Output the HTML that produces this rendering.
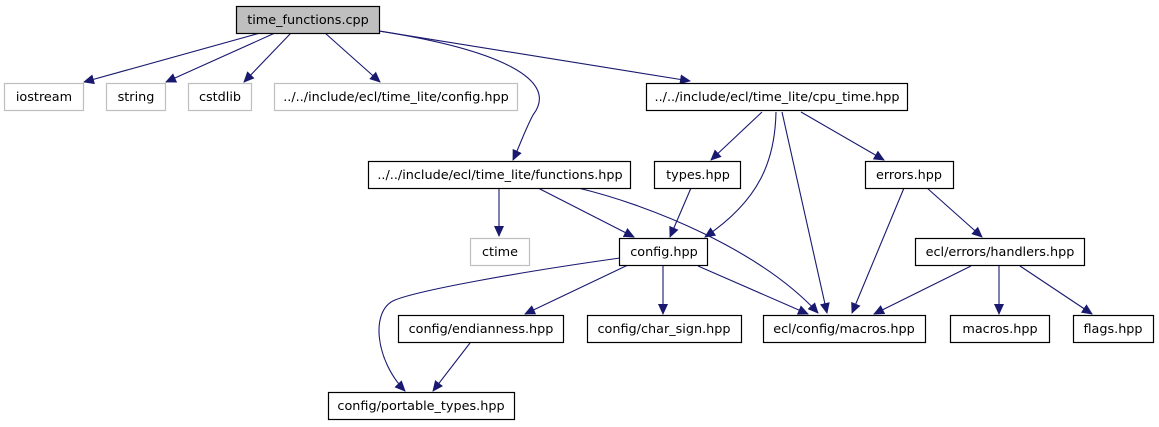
<!DOCTYPE html>
<html><head><meta charset="utf-8"><style>
html,body{margin:0;padding:0;background:#fff;}
svg{display:block;}
text{font-family:"DejaVu Sans","Liberation Sans",sans-serif;font-size:12.8px;fill:#000;}
.n{fill:#fff;stroke:#000;stroke-width:1.2;}
.g{fill:#fff;stroke:#bfbfbf;stroke-width:1.2;}
.e{fill:none;stroke:#191970;stroke-width:1.1;}
</style></head><body>
<svg width="1159" height="427" viewBox="0 0 1159 427" xmlns="http://www.w3.org/2000/svg">
<defs><marker id="a" markerWidth="11" markerHeight="10" refX="10" refY="5" orient="auto" markerUnits="userSpaceOnUse"><path d="M0,0 L11,5 L0,10 z" fill="#191970"/></marker></defs>
<g class="e">
<path d="M260,33 L84,82" marker-end="url(#a)"/>
<path d="M275,33 L166,82" marker-end="url(#a)"/>
<path d="M291,33 L244,82" marker-end="url(#a)"/>
<path d="M325,33 L380,82" marker-end="url(#a)"/>
<path d="M379,31 C500,50 560,80 533,115 C525,130 520,145 513,160" marker-end="url(#a)"/>
<path d="M379,31 L690,81" marker-end="url(#a)"/>
<path d="M762,112 L711,160" marker-end="url(#a)"/>
<path d="M776,112 C775,160 760,200 705,237" marker-end="url(#a)"/>
<path d="M782,112 L827,313" marker-end="url(#a)"/>
<path d="M801,112 L884,160" marker-end="url(#a)"/>
<path d="M499,188 L499,236" marker-end="url(#a)"/>
<path d="M538,188 L634,237" marker-end="url(#a)"/>
<path d="M578,188 C650,205 760,250 818,313" marker-end="url(#a)"/>
<path d="M691,188 L670,237" marker-end="url(#a)"/>
<path d="M904,188 L852,313" marker-end="url(#a)"/>
<path d="M927,188 L982,237" marker-end="url(#a)"/>
<path d="M620,258 C520,272 420,290 395,300 C370,310 375,360 405,391" marker-end="url(#a)"/>
<path d="M628,265 L525,314" marker-end="url(#a)"/>
<path d="M663,266 L663,314" marker-end="url(#a)"/>
<path d="M698,266 L808,314" marker-end="url(#a)"/>
<path d="M971,266 L874,314" marker-end="url(#a)"/>
<path d="M999,266 L999,314" marker-end="url(#a)"/>
<path d="M1020,266 L1092,314" marker-end="url(#a)"/>
<path d="M470,343 L433,391" marker-end="url(#a)"/>
</g>
<rect x="236.5" y="6.5" width="143" height="27" fill="#bfbfbf" stroke="#000" stroke-width="1.2"/>
<text x="308" y="24" text-anchor="middle">time_functions.cpp</text>
<rect class="g" x="4.5" y="83.5" width="79" height="27"/><text x="44" y="101" text-anchor="middle">iostream</text>
<rect class="g" x="106.5" y="83.5" width="59" height="27"/><text x="136" y="101" text-anchor="middle">string</text>
<rect class="g" x="188.5" y="83.5" width="63" height="27"/><text x="220" y="101" text-anchor="middle">cstdlib</text>
<rect class="g" x="274.5" y="83.5" width="243" height="27"/><text x="396" y="101" text-anchor="middle">../../include/ecl/time_lite/config.hpp</text>
<rect class="n" x="646.5" y="83.5" width="261" height="27"/><text x="777" y="101" text-anchor="middle">../../include/ecl/time_lite/cpu_time.hpp</text>
<rect class="n" x="368.5" y="161.5" width="262" height="27"/><text x="500" y="179" text-anchor="middle">../../include/ecl/time_lite/functions.hpp</text>
<rect class="n" x="654.5" y="161.5" width="86" height="27"/><text x="698" y="179" text-anchor="middle">types.hpp</text>
<rect class="n" x="865.5" y="161.5" width="88" height="27"/><text x="909" y="179" text-anchor="middle">errors.hpp</text>
<rect class="g" x="470.5" y="238.5" width="59" height="27"/><text x="500" y="256" text-anchor="middle">ctime</text>
<rect class="n" x="619.5" y="238.5" width="88" height="27"/><text x="664" y="256" text-anchor="middle">config.hpp</text>
<rect class="n" x="915.5" y="238.5" width="169" height="27"/><text x="1000" y="256" text-anchor="middle">ecl/errors/handlers.hpp</text>
<rect class="n" x="398.5" y="315.5" width="165" height="27"/><text x="481" y="333" text-anchor="middle">config/endianness.hpp</text>
<rect class="n" x="587.5" y="315.5" width="154" height="27"/><text x="664" y="333" text-anchor="middle">config/char_sign.hpp</text>
<rect class="n" x="763.5" y="315.5" width="162" height="27"/><text x="844" y="333" text-anchor="middle">ecl/config/macros.hpp</text>
<rect class="n" x="950.5" y="315.5" width="99" height="27"/><text x="1000" y="333" text-anchor="middle">macros.hpp</text>
<rect class="n" x="1073.5" y="315.5" width="80" height="27"/><text x="1113" y="333" text-anchor="middle">flags.hpp</text>
<rect class="n" x="328.5" y="392.5" width="186" height="27"/><text x="421" y="410" text-anchor="middle">config/portable_types.hpp</text>
</svg>
</body></html>
